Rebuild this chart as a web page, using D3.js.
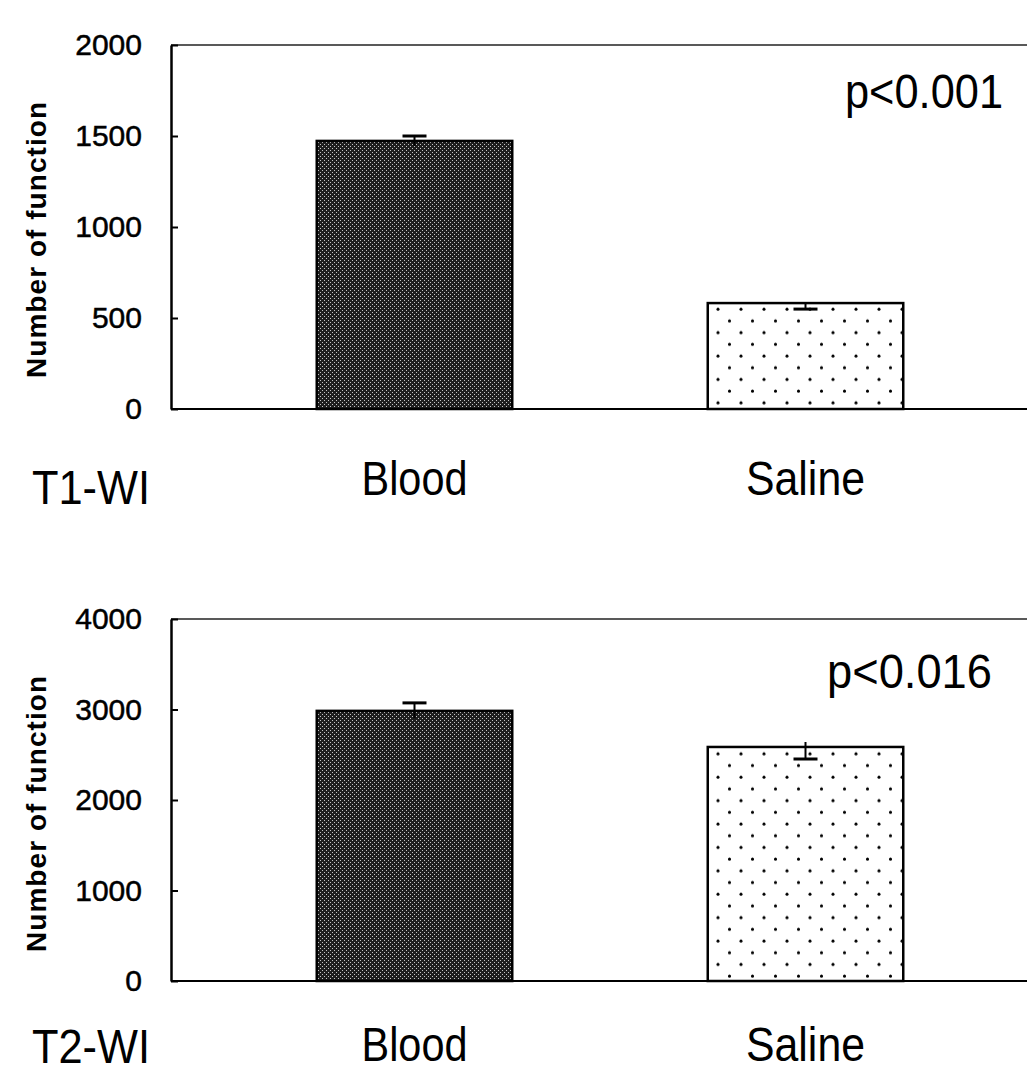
<!DOCTYPE html>
<html>
<head>
<meta charset="utf-8">
<script src="https://cdn.jsdelivr.net/npm/d3@7"></script>
<style>
  html, body { margin: 0; padding: 0; background: #fff; }
  svg { display: block; }
  text { font-family: "Liberation Sans", Arial, sans-serif; fill: #000; }
</style>
</head>
<body>
<svg id="chart" width="1027" height="1074"></svg>
<script>
// categories and values
const categories = ["Blood", "Saline"];

const t1Values = [1473, 582];
const t1ErrUp = [27, 0];
const t1ErrDown = [27, 33];
const t1Ticks = [0, 500, 1000, 1500, 2000];

const t2Values = [2985, 2586];
const t2ErrUp = [88, 55];
const t2ErrDown = [88, 133];
const t2Ticks = [0, 1000, 2000, 3000, 4000];

const panelLabels = ["T1-WI", "T2-WI"];
const pLabels = ["p<0.001", "p<0.016"];
const yTitle = "Number of function";

const svg = d3.select("#chart");
const axisX = 171;
const rightEdge = 1030;

// fills
const defs = svg.append("defs");
const dark = defs.append("pattern")
  .attr("id", "darkFill")
  .attr("patternUnits", "userSpaceOnUse")
  .attr("width", 4).attr("height", 4);
dark.append("rect").attr("width", 4).attr("height", 4).attr("fill", "#1e1e1e");
dark.append("rect").attr("x", 0).attr("y", 0).attr("width", 1).attr("height", 1).attr("fill", "#c4c4c4");
dark.append("rect").attr("x", 2).attr("y", 2).attr("width", 1).attr("height", 1).attr("fill", "#c4c4c4");

const dots = defs.append("pattern")
  .attr("id", "dotFill")
  .attr("patternUnits", "userSpaceOnUse")
  .attr("width", 23).attr("height", 23.4);
dots.append("rect").attr("width", 23).attr("height", 23.4).attr("fill", "#fff");
dots.append("circle").attr("cx", 5).attr("cy", 5).attr("r", 1.5).attr("fill", "#000");
dots.append("circle").attr("cx", 16.5).attr("cy", 16.7).attr("r", 1.5).attr("fill", "#000");

const fills = ["url(#darkFill)", "url(#dotFill)"];

const x = d3.scaleBand()
  .domain(categories)
  .range([219, 1001])
  .paddingInner(0.5)
  .paddingOuter(0.25);

/**
 * draw one bar panel
 */
function drawPanel(cfg) {
  const g = svg.append("g");
  const y = d3.scaleLinear().domain(cfg.domain).range([cfg.bottom, cfg.top]);

  // frame: top line and baseline
  g.append("line")
    .attr("x1", axisX).attr("x2", rightEdge)
    .attr("y1", y(cfg.domain[1])).attr("y2", y(cfg.domain[1]))
    .attr("stroke", "#222").attr("stroke-width", 1.6);
  g.append("line")
    .attr("x1", axisX).attr("x2", rightEdge)
    .attr("y1", y(0)).attr("y2", y(0))
    .attr("stroke", "#000").attr("stroke-width", 2);

  // bars
  g.selectAll(".bar")
    .data(cfg.values)
    .enter()
    .append("rect")
    .attr("class", "bar")
    .attr("x", (d, i) => x(categories[i]))
    .attr("width", x.bandwidth())
    .attr("y", (d) => y(d))
    .attr("height", (d) => y(0) - y(d))
    .attr("fill", (d, i) => fills[i])
    .attr("stroke", "#000")
    .attr("stroke-width", 2.5);

  // error bars, cap on the longer side
  const capW = 24;
  cfg.values.forEach((v, i) => {
    const cx = x(categories[i]) + x.bandwidth() / 2;
    const up = cfg.errUp[i];
    const down = cfg.errDown[i];
    g.append("line")
      .attr("x1", cx).attr("x2", cx)
      .attr("y1", y(v + up)).attr("y2", y(v - down))
      .attr("stroke", "#000").attr("stroke-width", 2);
    const capVal = up >= down ? v + up : v - down;
    g.append("line")
      .attr("x1", cx - capW / 2).attr("x2", cx + capW / 2)
      .attr("y1", y(capVal)).attr("y2", y(capVal))
      .attr("stroke", "#000").attr("stroke-width", 3);
  });

  // y axis with inward ticks
  const axis = d3.axisLeft(y)
    .tickValues(cfg.ticks)
    .tickFormat(d3.format("d"))
    .tickSizeInner(-7)
    .tickSizeOuter(0)
    .tickPadding(29);
  const ax = g.append("g")
    .attr("transform", `translate(${axisX},0)`)
    .call(axis);
  ax.select(".domain").attr("stroke", "#000").attr("stroke-width", 2.5);
  ax.selectAll(".tick line").attr("stroke", "#000").attr("stroke-width", 2);
  ax.selectAll(".tick text")
    .attr("font-size", 30)
    .attr("font-family", "'Liberation Sans', Arial, sans-serif")
    .attr("fill", "#000")
    .attr("stroke", "#000")
    .attr("stroke-width", 0.5);

  // y title
  g.append("text")
    .attr("transform", `translate(46,${cfg.titleY}) rotate(-90)`)
    .attr("text-anchor", "middle")
    .attr("font-size", 28)
    .attr("font-weight", "bold")
    .attr("textLength", 276)
    .attr("lengthAdjust", "spacing")
    .text(yTitle);

  // p value
  g.append("text")
    .attr("x", cfg.pX)
    .attr("y", cfg.pY)
    .attr("font-size", 48)
    .attr("textLength", cfg.pW)
    .attr("lengthAdjust", "spacingAndGlyphs")
    .text(cfg.pLabel);

  // category labels
  const catWidths = [106, 119];
  categories.forEach((c, i) => {
    const cx = x(c) + x.bandwidth() / 2;
    g.append("text")
      .attr("x", cx - catWidths[i] / 2)
      .attr("y", cfg.catY)
      .attr("font-size", 48)
      .attr("textLength", catWidths[i])
      .attr("lengthAdjust", "spacingAndGlyphs")
      .text(c);
  });

  // panel label
  g.append("text")
    .attr("x", 32)
    .attr("y", cfg.labelY)
    .attr("font-size", 48)
    .attr("textLength", 118)
    .attr("lengthAdjust", "spacingAndGlyphs")
    .text(cfg.label);
}

drawPanel({
  domain: [0, 2000], bottom: 409, top: 45,
  values: t1Values, errUp: t1ErrUp, errDown: t1ErrDown, ticks: t1Ticks,
  titleY: 240, pLabel: pLabels[0], pX: 845, pY: 108, pW: 158,
  catY: 495, label: panelLabels[0], labelY: 504
});

drawPanel({
  domain: [0, 4000], bottom: 981, top: 619,
  values: t2Values, errUp: t2ErrUp, errDown: t2ErrDown, ticks: t2Ticks,
  titleY: 814, pLabel: pLabels[1], pX: 827, pY: 688, pW: 165,
  catY: 1061, label: panelLabels[1], labelY: 1063
});
</script>
</body>
</html>
